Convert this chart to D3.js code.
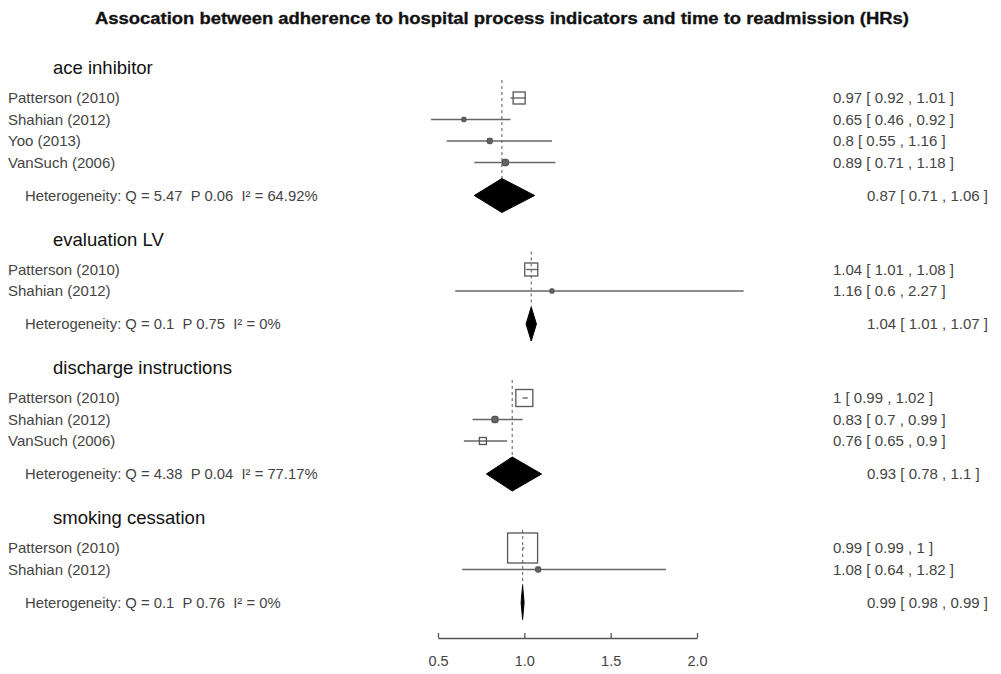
<!DOCTYPE html>
<html>
<head>
<meta charset="utf-8">
<script src="https://cdn.jsdelivr.net/npm/d3@7"></script>
<style>
  html, body { margin: 0; padding: 0; background: #fff; }
  svg { display: block; font-family: "Liberation Sans", Arial, sans-serif; }
</style>
</head>
<body>
<svg id="chart" width="1001" height="674"></svg>
<script>
// Subgroup meta-analysis results: hazard ratios per process indicator
const groupNames = ["ace inhibitor", "evaluation LV", "discharge instructions", "smoking cessation"];
const studyGroup = [0, 0, 0, 0, 1, 1, 2, 2, 2, 3, 3];
const studyNames = ["Patterson (2010)", "Shahian (2012)", "Yoo (2013)", "VanSuch (2006)",
                    "Patterson (2010)", "Shahian (2012)",
                    "Patterson (2010)", "Shahian (2012)", "VanSuch (2006)",
                    "Patterson (2010)", "Shahian (2012)"];
const studyHR = [0.97, 0.65, 0.8, 0.89, 1.04, 1.16, 1, 0.83, 0.76, 0.99, 1.08];
const studyLo = [0.92, 0.46, 0.55, 0.71, 1.01, 0.6, 0.99, 0.7, 0.65, 0.99, 0.64];
const studyHi = [1.01, 0.92, 1.16, 1.18, 1.08, 2.27, 1.02, 0.99, 0.9, 1, 1.82];
const studyWeight = [12, 4, 5, 6, 13, 4, 17, 6, 7, 30, 5];
const summaryHR = [0.87, 1.04, 0.93, 0.99];
const summaryLo = [0.71, 1.01, 0.78, 0.98];
const summaryHi = [1.06, 1.07, 1.1, 0.99];
const hetQ = ["5.47", "0.1", "4.38", "0.1"];
const hetP = ["0.06", "0.75", "0.04", "0.76"];
const hetI2 = ["64.92", "0", "77.17", "0"];
const axisTicks = [0.5, 1.0, 1.5, 2.0];

const svg = d3.select("#chart");
const x = d3.scaleLinear().domain([0.5, 2.0]).range([438, 697]);

// vertical layout
const headGap = 30, rowStep = 21.5, hetGap = 33, groupGap = 44;
let yCursor = 68;
const layout = groupNames.map((g, gi) => {
  const idx = studyGroup.map((d, i) => d === gi ? i : -1).filter(i => i >= 0);
  const headY = yCursor;
  const rows = idx.map((i, k) => ({ i, y: headY + headGap + k * rowStep }));
  const hetY = rows[rows.length - 1].y + hetGap;
  yCursor = hetY + groupGap;
  return { gi, headY, rows, hetY };
});

const fmt = v => String(+v);
const ciText = (e, l, h) => `${fmt(e)} [ ${fmt(l)} , ${fmt(h)} ]`;

// title
svg.append("text")
  .attr("x", 502).attr("y", 24)
  .attr("text-anchor", "middle")
  .attr("font-size", 16).attr("font-weight", "bold").attr("fill", "#111")
  .attr("stroke", "#111").attr("stroke-width", 0.3)
  .attr("textLength", 814).attr("lengthAdjust", "spacingAndGlyphs")
  .text("Assocation between adherence to hospital process indicators and time to readmission (HRs)");

const dh = 17; // diamond half-height
const labelSize = 15;

layout.forEach(L => {
  const g = svg.append("g");
  // heading
  g.append("text").attr("x", 53).attr("y", L.headY + 6)
    .attr("font-size", 18.5).attr("fill", "#111")
    .text(groupNames[L.gi]);

  // summary reference line
  g.append("line")
    .attr("x1", x(summaryHR[L.gi])).attr("x2", x(summaryHR[L.gi]))
    .attr("y1", L.rows[0].y - 18).attr("y2", L.hetY - dh)
    .attr("stroke", "#777").attr("stroke-width", 1.2)
    .attr("stroke-dasharray", "3,3");

  L.rows.forEach(r => {
    const i = r.i;
    g.append("text").attr("x", 8).attr("y", r.y + 5)
      .attr("font-size", labelSize).attr("fill", "#444").text(studyNames[i]);
    g.append("line")
      .attr("x1", x(studyLo[i])).attr("x2", x(studyHi[i]))
      .attr("y1", r.y).attr("y2", r.y)
      .attr("stroke", "#666").attr("stroke-width", 1.4);
    const s = studyWeight[i];
    g.append("rect")
      .attr("x", x(studyHR[i]) - s / 2).attr("y", r.y - s / 2)
      .attr("width", s).attr("height", s)
      .attr("rx", s <= 6 ? s / 3 : 0)
      .attr("fill", s <= 6 ? "#666" : "none")
      .attr("stroke", "#555").attr("stroke-width", 1.3);
    g.append("text").attr("x", 833).attr("y", r.y + 5)
      .attr("font-size", labelSize).attr("fill", "#444")
      .text(ciText(studyHR[i], studyLo[i], studyHi[i]));
  });

  // heterogeneity label
  g.append("text").attr("x", 25).attr("y", L.hetY + 5)
    .attr("font-size", 14.8).attr("fill", "#444")
    .attr("xml:space", "preserve")
    .text(`Heterogeneity: Q = ${hetQ[L.gi]}  P ${hetP[L.gi]}  I² = ${hetI2[L.gi]}%`);

  // pooled diamond
  const cx = x(summaryHR[L.gi]), lx = x(summaryLo[L.gi]), rx = x(summaryHi[L.gi]);
  const l0 = rx - lx < 3 ? cx - 1.5 : lx, r0 = rx - lx < 3 ? cx + 1.5 : rx;
  g.append("path")
    .attr("d", `M${l0},${L.hetY} L${cx},${L.hetY - dh} L${r0},${L.hetY} L${cx},${L.hetY + dh} Z`)
    .attr("fill", "#000").attr("stroke", "#000").attr("stroke-width", 1);
  g.append("text").attr("x", 867).attr("y", L.hetY + 5)
    .attr("font-size", labelSize).attr("fill", "#444")
    .text(ciText(summaryHR[L.gi], summaryLo[L.gi], summaryHi[L.gi]));
});

// x axis with ticks pointing up
const axisY = 638;
const axis = d3.axisBottom(x).tickValues(axisTicks).tickFormat(d3.format(".1f"))
  .tickSize(-5).tickSizeOuter(0).tickPadding(18);
const ax = svg.append("g").attr("transform", `translate(0,${axisY})`).call(axis);
ax.select(".domain").attr("stroke", "#555").attr("stroke-width", 1.3);
ax.selectAll(".tick line").attr("stroke", "#555").attr("stroke-width", 1.3);
ax.selectAll(".tick text").attr("font-size", 14.5).attr("fill", "#444")
  .attr("font-family", "Liberation Sans, Arial, sans-serif");
</script>
</body>
</html>
